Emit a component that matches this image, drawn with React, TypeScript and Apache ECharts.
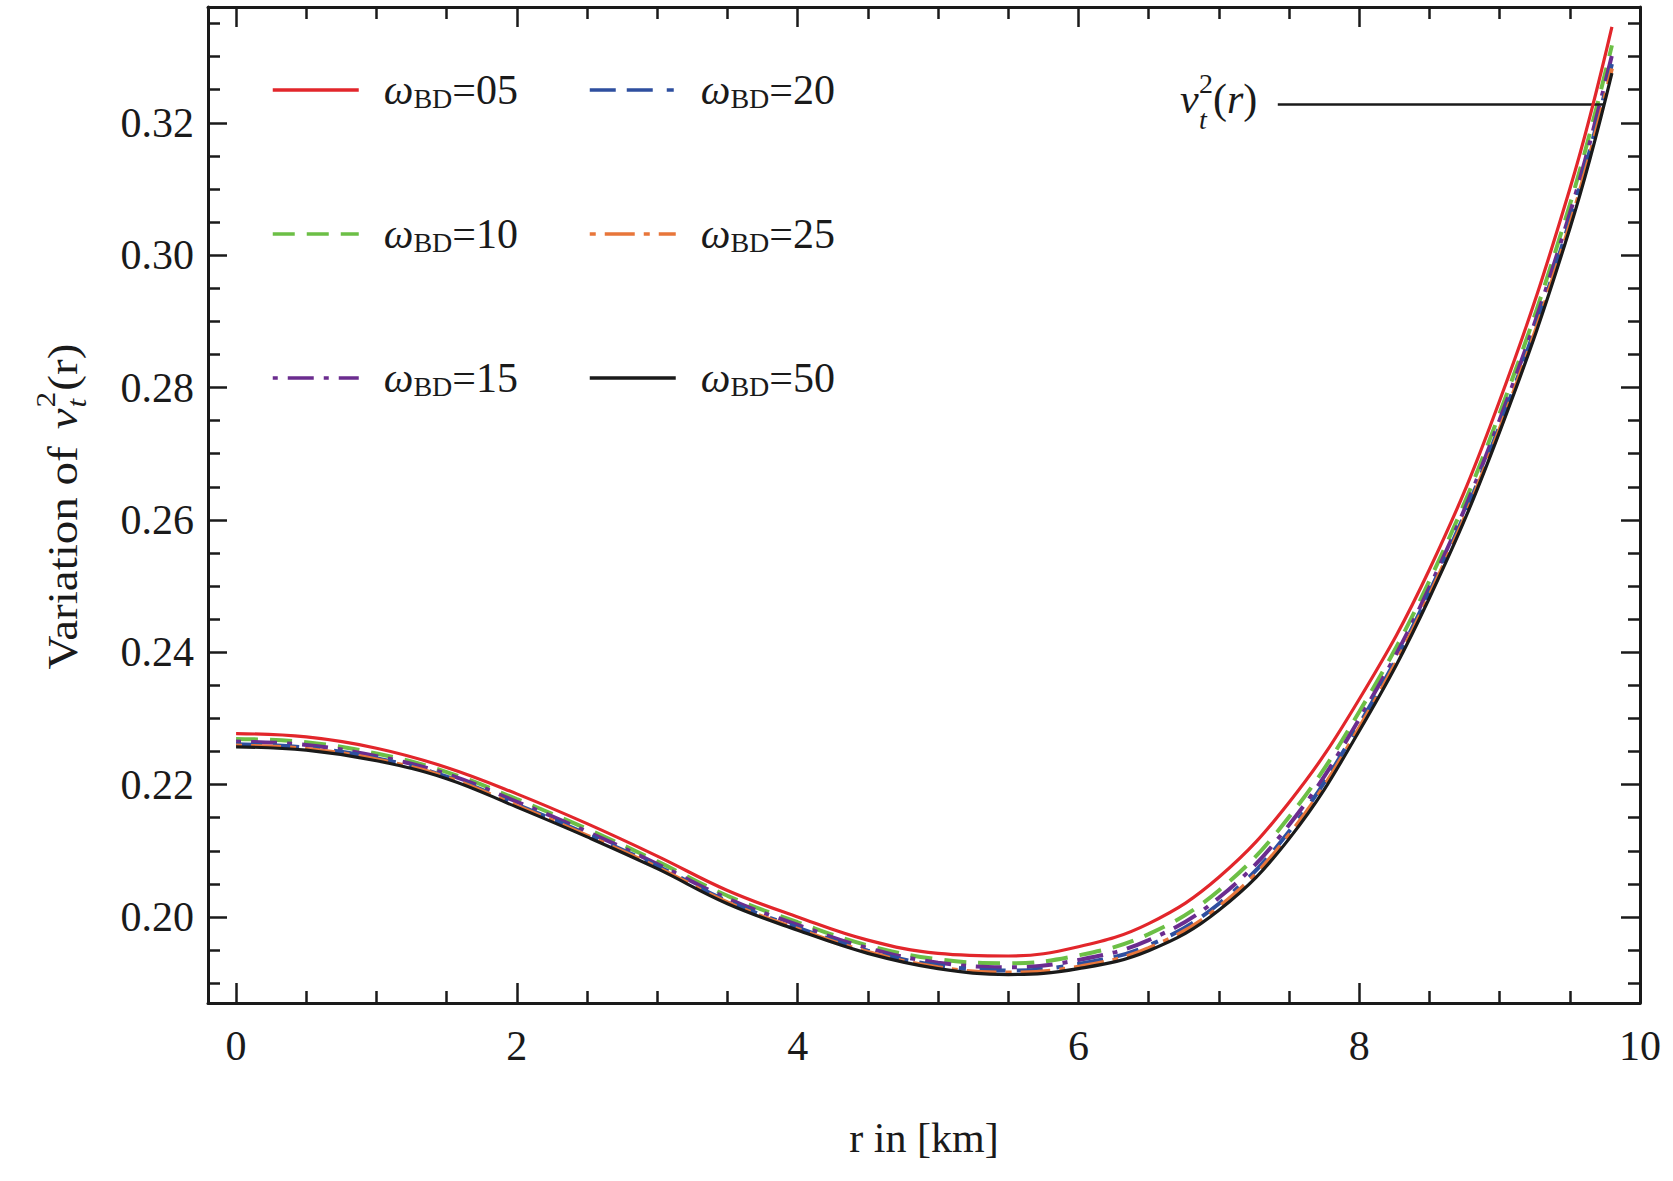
import React, { useEffect, useRef } from "react";
import * as echarts from "echarts";

const rVals = [0, 0.5, 1, 1.5, 2, 2.5, 3, 3.5, 4, 4.5, 5, 5.5, 6, 6.5, 7, 7.5, 8, 8.5, 9, 9.5, 9.8];
const w05 = [0.2277, 0.2272, 0.2255, 0.2226, 0.2186, 0.2141, 0.2092, 0.2040, 0.2000, 0.1965, 0.1945, 0.1941, 0.1955, 0.1990, 0.2060, 0.2173, 0.2329, 0.2525, 0.2780, 0.3100, 0.3345];
const w10 = [0.2269, 0.2264, 0.2247, 0.2219, 0.2178, 0.2133, 0.2084, 0.2032, 0.1992, 0.1957, 0.1936, 0.1930, 0.1942, 0.1974, 0.2040, 0.2151, 0.2310, 0.2508, 0.2761, 0.3076, 0.3317];
const w15 = [0.2265, 0.2260, 0.2243, 0.2216, 0.2174, 0.2129, 0.2080, 0.2028, 0.1988, 0.1953, 0.1931, 0.1924, 0.1935, 0.1965, 0.2029, 0.2139, 0.2299, 0.2498, 0.2751, 0.3063, 0.3302];
const w20 = [0.2261, 0.2256, 0.2240, 0.2212, 0.2170, 0.2125, 0.2077, 0.2024, 0.1984, 0.1949, 0.1927, 0.1919, 0.1929, 0.1957, 0.2020, 0.2129, 0.2291, 0.2491, 0.2742, 0.3052, 0.3289];
const w25 = [0.2259, 0.2254, 0.2238, 0.2211, 0.2168, 0.2123, 0.2075, 0.2022, 0.1982, 0.1947, 0.1924, 0.1916, 0.1925, 0.1953, 0.2015, 0.2124, 0.2286, 0.2486, 0.2737, 0.3046, 0.3282];
const w50 = [0.2257, 0.2252, 0.2236, 0.2209, 0.2166, 0.2121, 0.2073, 0.2020, 0.1980, 0.1945, 0.1922, 0.1913, 0.1922, 0.1949, 0.2010, 0.2118, 0.2281, 0.2482, 0.2733, 0.3040, 0.3275];

const xMajor = [0, 2, 4, 6, 8, 10];
const xMinor = [0.5, 1, 1.5, 2.5, 3, 3.5, 4.5, 5, 5.5, 6.5, 7, 7.5, 8.5, 9, 9.5];
const yMajor = [0.2, 0.22, 0.24, 0.26, 0.28, 0.3, 0.32];
const yMinor = [0.19, 0.195, 0.205, 0.21, 0.215, 0.225, 0.23, 0.235, 0.245, 0.25, 0.255, 0.265, 0.27, 0.275, 0.285, 0.29, 0.295, 0.305, 0.31, 0.315, 0.325, 0.33, 0.335];

const seriesNames = ["ωBD=05", "ωBD=10", "ωBD=15", "ωBD=20", "ωBD=25", "ωBD=50"];
const seriesValues = [w05, w10, w15, w20, w25, w50];
const seriesColors = ["#e2262b", "#6cbf46", "#6b2c8f", "#2e4f9f", "#e8763a", "#1a1a1a"];
const seriesDash: any[] = ["solid", [22, 12], [5, 10, 26, 10], [26, 11, 26, 14, 7, 14], [6, 9, 30, 9], "solid"];
const seriesWidth = [3.2, 4, 4, 4, 4, 3.2];

const annotY = 0.3228;
const annotX = [7.42, 9.75];

const FONT = "Liberation Serif";
const INK = "#1a1a1a";

export default function App() {
  const ref = useRef<HTMLDivElement>(null);
  useEffect(() => {
    if (!ref.current) return;
    const chart = echarts.init(ref.current, undefined, { renderer: "svg" });

    const mkX = (pos: "top" | "bottom", major: boolean, labels: boolean) => ({
      type: "value",
      position: pos,
      min: -0.2,
      max: 10,
      axisLine: { show: major, onZero: false, lineStyle: { color: INK, width: 3 } },
      axisTick: {
        show: true,
        inside: true,
        length: major ? 20 : 12,
        customValues: major ? xMajor : xMinor,
        lineStyle: { color: INK, width: 2.5 },
      },
      axisLabel: labels
        ? {
            show: true,
            customValues: xMajor,
            margin: 22,
            fontFamily: FONT,
            fontSize: 42,
            color: INK,
            formatter: (v: number) => String(Math.round(v)),
          }
        : { show: false },
      splitLine: { show: false },
      ...(labels
        ? {
            name: "r in [km]",
            nameLocation: "middle",
            nameGap: 114,
            nameTextStyle: { fontFamily: FONT, fontSize: 42, color: INK },
          }
        : {}),
    });

    const mkY = (pos: "left" | "right", major: boolean, labels: boolean) => ({
      type: "value",
      position: pos,
      min: 0.187,
      max: 0.3375,
      axisLine: { show: major, onZero: false, lineStyle: { color: INK, width: 3 } },
      axisTick: {
        show: true,
        inside: true,
        length: major ? 19 : 12,
        customValues: major ? yMajor : yMinor,
        lineStyle: { color: INK, width: 2.5 },
      },
      axisLabel: labels
        ? {
            show: true,
            customValues: yMajor,
            margin: 14,
            fontFamily: FONT,
            fontSize: 42,
            color: INK,
            formatter: (v: number) => v.toFixed(2),
          }
        : { show: false },
      splitLine: { show: false },
    });

    const series: any[] = seriesNames.map((name, i) => ({
      name,
      type: "line",
      xAxisIndex: 0,
      yAxisIndex: 0,
      data: rVals.map((r, j) => [r, seriesValues[i][j]]),
      smooth: 0.4,
      symbol: "none",
      lineStyle: { color: seriesColors[i], width: seriesWidth[i], type: seriesDash[i] },
      itemStyle: { color: seriesColors[i] },
      z: 2 + (i === 0 ? 5 : i === 5 ? 4 : 0),
    }));
    series[5].markLine = {
      silent: true,
      symbol: ["none", "none"],
      label: { show: false },
      lineStyle: { color: INK, width: 2.5, type: "solid" },
      data: [[{ coord: [annotX[0], annotY] }, { coord: [annotX[1], annotY] }]],
    };

    const richLegend = {
      w: { fontFamily: FONT, fontSize: 42, fontStyle: "italic", lineHeight: 44, color: INK },
      s: { fontFamily: FONT, fontSize: 28, lineHeight: 20, verticalAlign: "bottom", color: INK },
      n: { fontFamily: FONT, fontSize: 42, lineHeight: 44, color: INK },
    };
    const mkLegend = (left: number, data: string[]) => ({
      left,
      top: 69,
      orient: "vertical",
      padding: 0,
      itemWidth: 86,
      itemHeight: 14,
      itemGap: 101,
      data,
      itemStyle: { opacity: 0 },
      lineStyle: { width: 3.5 },
      formatter: (name: string) => `{w|ω}{s|BD}{n|${name.slice(3)}}`,
      textStyle: { fontFamily: FONT, fontSize: 42, color: INK, padding: [0, 0, 0, 20], rich: richLegend },
    });

    const option: any = {
      animation: false,
      backgroundColor: "#ffffff",
      grid: { left: 208, top: 7, right: 33, bottom: 178, containLabel: false },
      xAxis: [mkX("bottom", true, true), mkX("bottom", false, false), mkX("top", true, false), mkX("top", false, false)],
      yAxis: [mkY("left", true, true), mkY("left", false, false), mkY("right", true, false), mkY("right", false, false)],
      legend: [mkLegend(271, ["ωBD=05", "ωBD=10", "ωBD=15"]), mkLegend(588, ["ωBD=20", "ωBD=25", "ωBD=50"])],
      series,
      graphic: [
        {
          type: "group",
          x: 63,
          y: 506,
          rotation: Math.PI / 2,
          scaleX: 1.12,
          children: [
            { type: "text", x: -146, y: 0, style: { text: "Variation of ", font: `42px "${FONT}"`, fill: INK, align: "left", verticalAlign: "middle" } },
            { type: "text", x: 68.6, y: 0, style: { text: "v", font: `italic 42px "${FONT}"`, fill: INK, align: "left", verticalAlign: "middle" } },
            { type: "text", x: 88, y: -17, style: { text: "2", font: `28px "${FONT}"`, fill: INK, align: "left", verticalAlign: "middle" } },
            { type: "text", x: 88, y: 14, style: { text: "t", font: `italic 28px "${FONT}"`, fill: INK, align: "left", verticalAlign: "middle" } },
            { type: "text", x: 103, y: 0, style: { text: "(r)", font: `42px "${FONT}"`, fill: INK, align: "left", verticalAlign: "middle" } },
          ],
        },
        { type: "text", x: 1180, y: 99, style: { text: "v", font: `italic 42px "${FONT}"`, fill: INK, align: "left", verticalAlign: "middle" } },
        { type: "text", x: 1199, y: 83, style: { text: "2", font: `28px "${FONT}"`, fill: INK, align: "left", verticalAlign: "middle" } },
        { type: "text", x: 1199, y: 119, style: { text: "t", font: `italic 28px "${FONT}"`, fill: INK, align: "left", verticalAlign: "middle" } },
        {
          type: "text",
          x: 1213,
          y: 99,
          style: {
            text: "{p|(}{i|r}{p|)}",
            align: "left",
            verticalAlign: "middle",
            fill: INK,
            rich: {
              p: { fontFamily: FONT, fontSize: 42, color: INK },
              i: { fontFamily: FONT, fontSize: 42, fontStyle: "italic", color: INK },
            },
          },
        },
      ],
    };
    chart.setOption(option);
    return () => chart.dispose();
  }, []);
  return (
    <div
      ref={ref}
      style={{ position: "fixed", left: 0, top: 0, width: 1673, height: 1181, background: "#fff" }}
    />
  );
}
